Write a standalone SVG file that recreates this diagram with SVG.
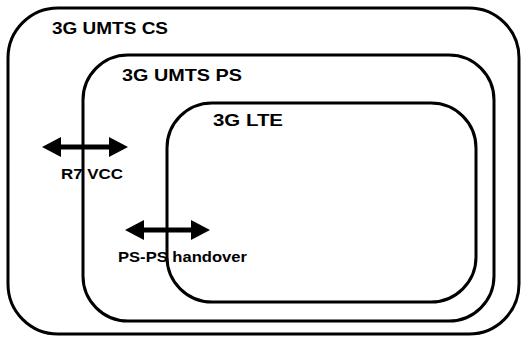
<svg xmlns="http://www.w3.org/2000/svg" width="522" height="338" viewBox="0 0 522 338">
<defs>
<style>
.box{fill:none;stroke:#000;stroke-width:3}
.lbl{font-family:"Liberation Sans",Arial,sans-serif;font-weight:bold;font-size:17px;fill:#000}
.sm{font-size:15px}
.arr{stroke:#000;stroke-width:5;fill:none}
.head{fill:#000}
</style>
</defs>
<rect width="522" height="338" fill="#fff"/>
<g id="umts-cs">
<rect class="box" x="8" y="8" width="511" height="326" rx="50" ry="50"/>
<text class="lbl" x="52" y="34" textLength="116" lengthAdjust="spacingAndGlyphs">3G UMTS CS</text>
</g>
<g id="umts-ps">
<rect class="box" x="83" y="55" width="411" height="266" rx="45" ry="45"/>
<text class="lbl" x="122" y="81" textLength="120" lengthAdjust="spacingAndGlyphs">3G UMTS PS</text>
</g>
<g id="lte">
<rect class="box" x="167" y="103" width="309" height="199" rx="45" ry="45"/>
<text class="lbl" x="213" y="126" textLength="70" lengthAdjust="spacingAndGlyphs">3G LTE</text>
</g>
<g id="connectors">
<g id="r7-vcc">
<line class="arr" x1="58" y1="147" x2="112" y2="147"/>
<polygon class="head" points="42,147 61,137 61,157"/>
<polygon class="head" points="128,147 109,137 109,157"/>
</g>
<g id="ps-ps-handover">
<line class="arr" x1="141" y1="230" x2="194" y2="230"/>
<polygon class="head" points="125,230 144,220 144,240"/>
<polygon class="head" points="210,230 191,220 191,240"/>
</g>
</g>
<text class="lbl sm" x="61" y="179" textLength="62" lengthAdjust="spacingAndGlyphs">R7 VCC</text>
<text class="lbl sm" x="118" y="262" textLength="129" lengthAdjust="spacingAndGlyphs">PS-PS handover</text>
</svg>
